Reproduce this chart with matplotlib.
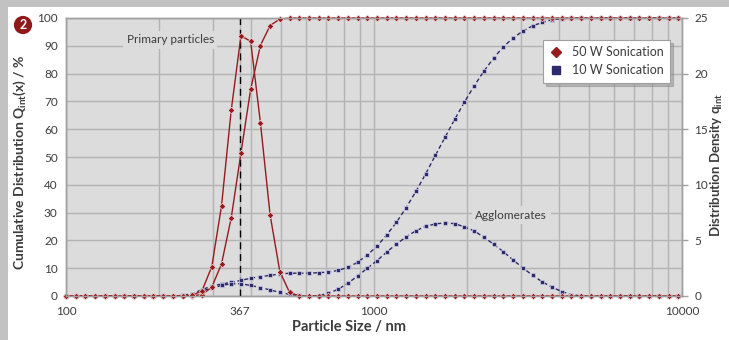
import matplotlib
matplotlib.use("Agg")
import matplotlib.pyplot as plt
from matplotlib.lines import Line2D
from matplotlib.patches import Rectangle
from matplotlib.ticker import FixedLocator, NullFormatter

plt.rcParams['font.family'] = ['Lato', 'DejaVu Sans']

# particle size classes (nm)
size_nm = [100.0, 107.5, 115.6, 124.3, 133.7, 143.8, 154.7, 166.3, 178.8, 192.3,
           206.8, 222.4, 239.1, 257.2, 276.5, 297.4, 319.8, 343.9, 369.8, 397.7,
           427.7, 459.9, 494.6, 531.8, 571.9, 615.0, 661.4, 711.2, 764.8, 822.5,
           884.5, 951.1, 1022.8, 1099.9, 1182.8, 1271.9, 1367.8, 1470.9, 1581.8, 1701.0,
           1829.2, 1967.1, 2115.4, 2274.8, 2446.3, 2630.7, 2829.0, 3042.2, 3271.5, 3518.1,
           3783.3, 4068.5, 4375.1, 4704.9, 5059.5, 5440.9, 5851.0, 6292.0, 6766.3, 7276.3,
           7824.8, 8414.6, 9048.8, 9730.9]

# 50 W sonication
cum_50 = [0, 0, 0, 0, 0, 0, 0, 0, 0, 0,
          0, 0, 0, 0.05, 0.5, 3.2, 11.5, 28.1, 51.4, 74.4,
          90.1, 97.3, 99.6, 100, 100, 100, 100, 100, 100, 100,
          100, 100, 100, 100, 100, 100, 100, 100, 100, 100,
          100, 100, 100, 100, 100, 100, 100, 100, 100, 100,
          100, 100, 100, 100, 100, 100, 100, 100, 100, 100,
          100, 100, 100, 100]
dens_50 = [0, 0, 0, 0, 0, 0, 0, 0, 0, 0,
           0, 0, 0, 0.05, 0.48, 2.64, 8.1, 16.7, 23.4, 22.9,
           15.6, 7.3, 2.2, 0.33, 0, 0, 0, 0, 0, 0,
           0, 0, 0, 0, 0, 0, 0, 0, 0, 0,
           0, 0, 0, 0, 0, 0, 0, 0, 0, 0,
           0, 0, 0, 0, 0, 0, 0, 0, 0, 0,
           0, 0, 0, 0]

# 10 W sonication
cum_10 = [0, 0, 0, 0, 0, 0, 0, 0, 0, 0,
          0, 0, 0.1, 0.8, 2.3, 3.6, 4.3, 4.9, 5.6, 6.4,
          7.0, 7.4, 7.9, 8.2, 8.2, 8.2, 8.4, 8.6, 9.2, 10.3,
          12.1, 14.8, 17.9, 22.0, 26.5, 31.8, 37.6, 43.9, 50.6, 57.1,
          63.6, 69.8, 75.6, 80.9, 85.6, 89.7, 92.8, 95.3, 97.2, 98.4,
          99.4, 99.7, 99.9, 100, 100, 100, 100, 100, 100, 100,
          100, 100, 100, 100]
dens_10 = [0, 0, 0, 0, 0, 0, 0, 0, 0, 0,
           0, 0, 0.05, 0.2, 0.45, 0.7, 0.95, 1.1, 1.1, 0.95,
           0.75, 0.55, 0.32, 0.15, 0.05, 0, 0.03, 0.25, 0.6, 1.15,
           1.8, 2.49, 3.18, 3.95, 4.68, 5.31, 5.87, 6.26, 6.48, 6.58,
           6.5, 6.22, 5.85, 5.28, 4.66, 3.98, 3.24, 2.53, 1.86, 1.27,
           0.8, 0.4, 0.13, 0, 0, 0, 0, 0, 0, 0,
           0, 0, 0, 0]

x_ticks = [100, 367, 1000, 10000]
x_ticklabels = ["100", "367", "1000", "10000"]
left_ticks = list(range(0, 101, 10))
right_ticks = [0, 5, 10, 15, 20, 25]
primary_size = 367

RED = "#951b1e"
NAVY = "#2d2a6b"
TXT = "#3c3c3c"
W, H = 729, 340

fig = plt.figure(figsize=(W / 100, H / 100), dpi=100, facecolor="white")
# grey frame strips
fig.patches.append(Rectangle((0, 0), 8 / W, 1, transform=fig.transFigure, fc="#c2c2c2", ec="none", zorder=0))
fig.patches.append(Rectangle((0, 1 - 7 / H), 1, 7 / H, transform=fig.transFigure, fc="#c2c2c2", ec="none", zorder=0))

ax = fig.add_axes([66 / W, 1 - 296 / H, (682 - 66) / W, (296 - 18) / H])
ax2 = ax.twinx()
ax.set_facecolor("#dcdcdc")
ax.set_xscale("log")
ax.set_xlim(100, 10000)
ax.set_ylim(0, 100)
ax2.set_ylim(0, 25)

# grid
ax.xaxis.set_minor_locator(FixedLocator([m * d for d in (100, 1000) for m in range(2, 10)]))
ax.xaxis.set_minor_formatter(NullFormatter())
ax.grid(True, which="both", axis="x", color="#b3b3b3", lw=1)
ax.grid(True, which="major", axis="y", color="#b3b3b3", lw=1)
ax.set_axisbelow(True)
ax.set_xticks(x_ticks)
ax.set_xticklabels(x_ticklabels)
ax.set_yticks(left_ticks)
ax2.set_yticks(right_ticks)

for a in (ax, ax2):
    for s in a.spines.values():
        s.set_color("#a0a0a0")
        s.set_linewidth(1)
ax.tick_params(axis="x", which="both", length=0, pad=7, labelsize=8.5, labelcolor=TXT)
ax.tick_params(axis="y", length=0, pad=6, labelsize=8.5, labelcolor=TXT)
ax2.tick_params(axis="y", length=4, width=1, color="#a0a0a0", pad=5, labelsize=8.5, labelcolor=TXT)

# dashed line at primary particle size
ax.axvline(primary_size, color="black", lw=1, ls=(0, (5, 3.5)), zorder=3)

dens_tr = ax2.transData
blue_kw = dict(color=NAVY, lw=1, ls=(0, (3, 2)), marker="s", ms=3.4, markerfacecolor=NAVY,
               markeredgecolor="#d0d0e8", markeredgewidth=0.5, zorder=4, clip_on=False)
red_kw = dict(color=RED, lw=1, marker="D", ms=3.4, markerfacecolor=RED,
              markeredgecolor="#f0d8d8", markeredgewidth=0.5, zorder=5, clip_on=False)
ax.plot(size_nm, cum_10, **blue_kw)
ax.plot(size_nm, dens_10, transform=dens_tr, **blue_kw)
ax.plot(size_nm, cum_50, **red_kw)
ax.plot(size_nm, dens_50, transform=dens_tr, **red_kw)
ax.set_xlim(100, 10000)
ax.set_ylim(0, 100)

# annotations
bb = dict(fc="#dcdcdc", ec="none", pad=2.5)
ax.text(218, 92.2, "Primary particles", ha="center", va="center", fontsize=8.5, color=TXT, bbox=bb, zorder=2)
ax.text(2790, 29.0, "Agglomerates", ha="center", va="center", fontsize=8.5, color=TXT, bbox=bb, zorder=2)

# legend
handles = [Line2D([], [], ls="none", marker="D", ms=5.5, color=RED, markeredgecolor=RED),
           Line2D([], [], ls="none", marker="s", ms=5.5, color=NAVY, markeredgecolor=NAVY)]
leg = ax.legend(handles, ["50 W Sonication", "10 W Sonication"], loc="upper left",
                bbox_to_anchor=(543 / W, 1 - 40 / H), bbox_transform=fig.transFigure,
                borderaxespad=0, frameon=True, fancybox=False, fontsize=9, handletextpad=0.8,
                borderpad=0.5, labelspacing=0.5, handlelength=1.0,
                shadow={"ox": 2, "oy": -2, "color": "#8a8a8a"})
leg.get_frame().set_edgecolor("#a0a0a0")
leg.get_frame().set_linewidth(0.8)
for t in leg.get_texts():
    t.set_color(TXT)
leg.set_zorder(10)

# axis labels
fig.text(349 / W, 1 - 327 / H, "Particle Size / nm", ha="center", va="center",
         fontsize=10.5, fontweight="bold", color=TXT)
fig.text(20 / W, 1 - 162 / H, "Cumulative Distribution Q$_\\mathregular{int}$(x) / %", ha="center", va="center",
         rotation=90, fontsize=10, fontweight="bold", color=TXT)
fig.text(717 / W, 1 - 165 / H, "Distribution Density q$_\\mathregular{int}$", ha="center", va="center",
         rotation=90, fontsize=9.5, fontweight="bold", color=TXT)

# circled number
fig.text(23 / W, 1 - 25 / H, "2", ha="center", va="center", fontsize=9, fontweight="bold", color="white",
         bbox=dict(boxstyle="circle,pad=0.25", fc="#8e1a1a", ec="none"))

fig.savefig("out.png", dpi=100, facecolor="white")
